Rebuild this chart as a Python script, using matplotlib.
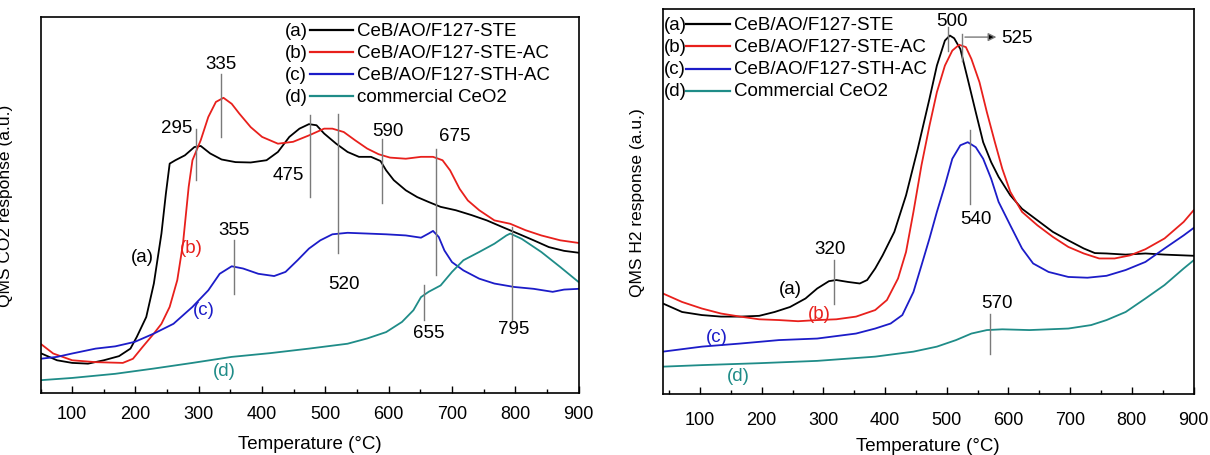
import matplotlib
matplotlib.use("Agg")
import matplotlib.pyplot as plt
from matplotlib.ticker import MultipleLocator

plt.rcParams['font.family'] = ['Liberation Sans', 'DejaVu Sans']
FS = 13.5      # legend, peak labels, x label
TICK_FS = 13
YLAB_FS = 12.5

# ---------------- CO2 TPD (left) ----------------
co2_a_T = [50, 76, 100, 125, 150, 174, 192, 202, 217, 229, 241, 248, 254, 263, 278, 293, 303, 318, 336, 358,
           382, 407, 425, 443, 459, 474, 486, 498, 517, 535, 553, 572, 587, 596, 608, 627, 645, 663, 682, 706,
           731, 755, 780, 804, 829, 853, 877, 900]
co2_a = [10.6, 8.7, 8.0, 7.8, 8.7, 9.8, 11.8, 14.9, 20.2, 29.1, 42.4, 53.0, 61.0, 61.9, 63.2, 65.4, 65.7, 63.7,
         62.1, 61.4, 61.3, 61.9, 64.1, 68.1, 70.3, 71.5, 71.2, 69.0, 66.3, 64.1, 62.8, 62.8, 61.7, 59.2, 56.6,
         53.9, 52.1, 50.8, 49.5, 48.6, 47.3, 45.9, 44.1, 42.4, 40.6, 38.8, 37.8, 37.3]

co2_b_T = [50, 70, 100, 137, 180, 196, 211, 229, 241, 254, 266, 275, 284, 290, 303, 315, 327, 339, 352, 364,
           382, 400, 425, 449, 474, 498, 511, 529, 547, 566, 584, 602, 627, 651, 670, 685, 697, 712, 725, 743,
           767, 792, 816, 841, 871, 900]
co2_b = [13.1, 10.5, 8.7, 8.2, 8.0, 9.1, 12.2, 15.8, 18.4, 22.9, 30.0, 39.7, 54.8, 61.9, 67.2, 73.4, 77.4, 78.5,
         76.9, 74.3, 70.7, 68.1, 66.3, 66.8, 68.5, 70.3, 70.3, 69.4, 67.2, 65.0, 63.5, 62.6, 62.3, 62.8, 62.8,
         61.9, 59.2, 54.3, 51.2, 48.6, 45.9, 45.0, 43.3, 41.9, 40.6, 39.9]

co2_c_T = [50, 76, 100, 137, 168, 199, 229, 260, 290, 315, 333, 352, 370, 394, 419, 437, 456, 474, 492, 511,
           535, 566, 596, 627, 651, 663, 670, 679, 688, 700, 718, 743, 767, 798, 829, 859, 877, 900]
co2_c = [9.1, 9.6, 10.5, 11.8, 12.4, 13.6, 15.8, 18.4, 22.9, 27.3, 31.7, 33.7, 33.1, 31.7, 31.1, 32.2, 35.3,
         38.4, 40.6, 42.2, 42.6, 42.4, 42.2, 41.9, 41.3, 42.4, 43.1, 41.5, 37.9, 34.8, 32.6, 30.4, 29.1, 28.2,
         27.7, 26.9, 27.5, 27.7]

co2_d_T = [50, 100, 168, 229, 290, 352, 413, 474, 535, 566, 596, 621, 639, 651, 663, 682, 700, 718, 743, 767,
           786, 792, 810, 841, 871, 900]
co2_d = [3.4, 4.0, 5.1, 6.5, 8.0, 9.6, 10.6, 11.8, 13.1, 14.5, 16.2, 18.9, 22.0, 25.5, 26.9, 28.6, 32.2, 35.3,
         37.5, 39.7, 41.9, 42.4, 41.0, 37.5, 33.5, 29.5]

# peak markers: temperature, line bottom, line top, label x, label y
co2_peaks = [
    (335, 68.1, 84.9, 335, 87.5),
    (295, 56.6, 70.3, 265, 70.5),
    (475, 52.1, 73.8, 441, 58.2),
    (520, 37.1, 74.3, 529, 29.1),
    (590, 50.6, 67.6, 599, 69.9),
    (675, 31.3, 65.0, 705, 68.5),
    (355, 26.2, 40.6, 356, 43.4),
    (655, 19.5, 28.6, 663, 16.2),
    (795, 19.5, 44.1, 798, 17.1),
]
co2_curve_tags = [(211, 36.2), (288.5, 38.8), (308.7, 22.2), (341, 6.0)]

# ---------------- H2 TPR (right) ----------------
h2_a_T = [40, 71, 103, 134, 165, 196, 221, 246, 271, 290, 309, 321, 340, 359, 371, 384, 396, 415, 434, 453,
          472, 484, 497, 505, 512, 522, 534, 547, 559, 572, 584, 603, 622, 647, 672, 697, 722, 740, 759, 790,
          822, 853, 900]
h2_a = [23.5, 21.3, 20.5, 20.1, 20.1, 20.3, 21.3, 22.6, 24.8, 27.4, 29.3, 29.6, 29.1, 28.7, 29.6, 32.6, 36.0,
        42.1, 51.6, 63.7, 76.7, 85.3, 91.8, 93.1, 92.4, 89.6, 81.8, 73.2, 65.4, 60.2, 56.4, 51.6, 48.1, 45.1,
        42.1, 39.9, 37.8, 36.6, 36.5, 36.2, 36.5, 36.2, 35.9]

h2_b_T = [40, 71, 103, 134, 165, 196, 228, 259, 290, 321, 353, 384, 403, 421, 434, 446, 459, 472, 484, 497,
          509, 520, 531, 540, 553, 565, 578, 590, 603, 622, 647, 672, 697, 722, 747, 772, 797, 822, 853, 884, 900]
h2_b = [26.1, 23.9, 22.2, 20.9, 20.1, 19.4, 19.2, 18.9, 19.2, 19.4, 20.1, 21.8, 24.4, 30.0, 36.9, 47.3, 59.4,
        69.7, 78.4, 85.3, 89.2, 90.7, 90.1, 87.0, 81.0, 73.2, 65.4, 58.5, 52.5, 47.3, 43.8, 40.8, 38.2, 36.5,
        35.2, 35.2, 36.0, 37.6, 40.4, 44.7, 47.7]

h2_c_T = [40, 103, 165, 228, 290, 353, 384, 409, 428, 446, 459, 472, 484, 497, 509, 522, 534, 547, 559, 572,
          584, 603, 622, 640, 665, 697, 728, 759, 790, 822, 853, 884, 900]
h2_c = [11.0, 12.3, 13.1, 14.0, 14.4, 15.7, 17.0, 18.3, 20.5, 26.5, 33.4, 40.4, 47.3, 54.2, 61.1, 64.6, 65.4,
        64.1, 61.1, 55.9, 49.9, 43.8, 37.8, 33.9, 31.7, 30.4, 30.2, 30.7, 32.2, 34.3, 37.8, 41.2, 43.1]

h2_d_T = [40, 103, 196, 290, 384, 446, 484, 515, 540, 565, 590, 634, 697, 734, 759, 790, 822, 853, 884, 900]
h2_d = [7.1, 7.5, 8.0, 8.6, 9.7, 11.0, 12.3, 14.0, 15.7, 16.6, 16.8, 16.6, 17.0, 17.9, 19.2, 21.3, 24.8, 28.3,
        32.6, 34.7]

# peak markers: label, line x, line bottom, line top, label x, label y
h2_peaks = [
    ('500', 502, 89.1, 95.3, 508, 97.0),
    ('540', 537, 49.4, 68.5, 547, 45.5),
    ('320', 318, 23.5, 34.7, 311, 37.8),
    ('570', 570, 10.5, 20.7, 581, 23.8),
]
h2_curve_tags = [(246, 27.4), (293, 20.9), (128, 14.9), (162, 4.9)]

tags = ['(a)', '(b)', '(c)', '(d)']
colors = ['#000000', '#e8201c', '#1c1cc8', '#1f8c88']
co2_names = ['CeB/AO/F127-STE', 'CeB/AO/F127-STE-AC', 'CeB/AO/F127-STH-AC', 'commercial CeO2']
h2_names = ['CeB/AO/F127-STE', 'CeB/AO/F127-STE-AC', 'CeB/AO/F127-STH-AC', 'Commercial CeO2']
peak_gray = '#7a7a7a'


def legend_rows(ax, names, x0, x1, x2, x3, y0, dy):
    for i, name in enumerate(names):
        y = y0 - i * dy
        ax.text(x0, y, tags[i], transform=ax.transAxes, fontsize=FS, va='center', ha='left')
        ax.plot([x1, x2], [y, y], color=colors[i], lw=1.6, transform=ax.transAxes)
        ax.text(x3, y, name, transform=ax.transAxes, fontsize=FS, va='center', ha='left')


def style(ax, xmin, ylabel, ylx, pad, xly):
    ax.set_xlim(xmin, 900)
    ax.set_ylim(0, 100)
    ax.set_yticks([])
    ax.xaxis.set_major_locator(MultipleLocator(100))
    ax.xaxis.set_minor_locator(MultipleLocator(50))
    ax.tick_params(axis='x', which='major', direction='in', length=5, width=1, labelsize=TICK_FS, pad=pad)
    ax.tick_params(axis='x', which='minor', direction='in', length=3, width=1)
    for s in ax.spines.values():
        s.set_linewidth(1.2)
    ax.set_xlabel('Temperature (°C)', fontsize=FS)
    ax.xaxis.set_label_coords(0.5, xly)
    ax.set_ylabel(ylabel, fontsize=YLAB_FS)
    ax.yaxis.set_label_coords(ylx, 0.5)


fig = plt.figure(figsize=(12.1, 4.56), dpi=100)
ax1 = fig.add_axes([0.0335, 0.136, 0.4447, 0.8246])
ax2 = fig.add_axes([0.5479, 0.1338, 0.4385, 0.8443])

# left: CO2
for T, v, c in zip([co2_a_T, co2_b_T, co2_c_T, co2_d_T], [co2_a, co2_b, co2_c, co2_d], colors):
    ax1.plot(T, v, color=c, lw=1.3)
for T, lo, hi, lx, ly in co2_peaks:
    ax1.plot([T, T], [lo, hi], color=peak_gray, lw=1)
    ax1.text(lx, ly, str(T), fontsize=FS, ha='center', va='center')
for (x, y), t, c in zip(co2_curve_tags, tags, colors):
    ax1.text(x, y, t, color=c, fontsize=FS, ha='center', va='center')
legend_rows(ax1, co2_names, 0.455, 0.500, 0.581, 0.589, 0.965, 0.0585)
style(ax1, 50, 'QMS CO2 response (a.u.)', -0.052, 9, -0.112)

# right: H2
for T, v, c in zip([h2_a_T, h2_b_T, h2_c_T, h2_d_T], [h2_a, h2_b, h2_c, h2_d], colors):
    ax2.plot(T, v, color=c, lw=1.3)
for lab, T, lo, hi, lx, ly in h2_peaks:
    ax2.plot([T, T], [lo, hi], color=peak_gray, lw=1)
    ax2.text(lx, ly, lab, fontsize=FS, ha='center', va='center')
# 525 marker with arrow
ax2.plot([525, 525], [86.5, 93.5], color=peak_gray, lw=1)
ax2.annotate('', xy=(585, 92.7), xytext=(525, 92.7),
             arrowprops=dict(arrowstyle='-|>', color=peak_gray, lw=1, mutation_scale=12, fc='black', ec=peak_gray))
ax2.text(588, 92.7, '525', fontsize=FS, ha='left', va='center')
for (x, y), t, c in zip(h2_curve_tags, tags, colors):
    ax2.text(x, y, t, color=c, fontsize=FS, ha='center', va='center')
legend_rows(ax2, h2_names, 0.002, 0.044, 0.127, 0.133, 0.961, 0.058)
style(ax2, 40, 'QMS H2 response (a.u.)', -0.034, 12, -0.112)

fig.savefig('out.png', dpi=100)
